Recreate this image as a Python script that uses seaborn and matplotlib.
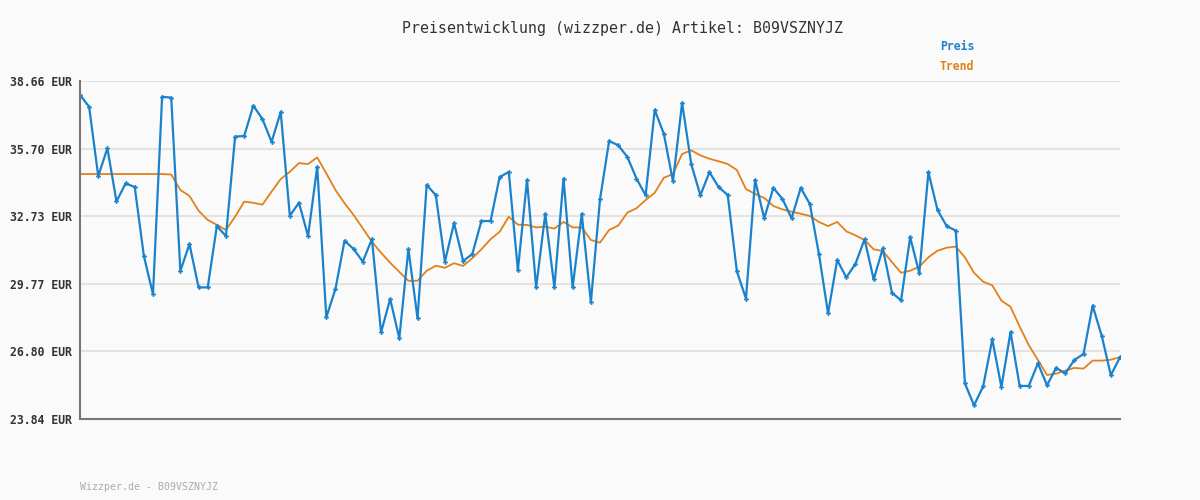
import numpy as np
import pandas as pd
import matplotlib
matplotlib.use("Agg")
import matplotlib.pyplot as plt
import seaborn as sns

# ===== Data =====
preis = [
    38.05, 37.53, 34.49, 35.71, 33.38, 34.17, 34.01, 30.99, 29.31, 37.97,
    37.93, 30.33, 31.51, 29.61, 29.61, 32.30, 31.86, 36.22, 36.25, 37.58,
    36.99, 35.99, 37.30, 32.75, 33.32, 31.86, 34.90, 28.30, 29.54, 31.66,
    31.29, 30.74, 31.73, 27.64, 29.10, 27.38, 31.29, 28.25, 34.10, 33.66,
    30.74, 32.43, 30.77, 31.07, 32.52, 32.52, 34.45, 34.67, 30.36, 34.32,
    29.61, 32.83, 29.61, 34.38, 29.61, 32.83, 28.96, 33.47, 36.03, 35.84,
    35.33, 34.38, 33.65, 37.39, 36.34, 34.26, 37.70, 35.02, 33.65, 34.66,
    34.01, 33.66, 30.32, 29.12, 34.32, 32.64, 33.97, 33.49, 32.64, 33.97,
    33.27, 31.07, 28.47, 30.81, 30.05, 30.64, 31.72, 29.96, 31.32, 29.38,
    29.04, 31.81, 30.23, 34.66, 33.00, 32.30, 32.10, 25.40, 24.44, 25.27,
    27.33, 25.24, 27.65, 25.29, 25.29, 26.28, 25.32, 26.08, 25.84, 26.43,
    26.69, 28.81, 27.48, 25.76, 26.55,
]
trend = [
    34.58, 34.58, 34.58, 34.58, 34.58, 34.58, 34.58, 34.58, 34.58, 34.58,
    34.56, 33.88, 33.62, 32.97, 32.57, 32.35, 32.13, 32.71, 33.37, 33.32,
    33.24, 33.81, 34.36, 34.68, 35.06, 35.02, 35.31, 34.61, 33.88, 33.30,
    32.78, 32.20, 31.61, 31.13, 30.69, 30.29, 29.90, 29.90, 30.34, 30.56,
    30.47, 30.67, 30.55, 30.89, 31.28, 31.72, 32.05, 32.71, 32.36, 32.35,
    32.24, 32.27, 32.19, 32.48, 32.24, 32.24, 31.69, 31.57, 32.13, 32.32,
    32.89, 33.08, 33.44, 33.76, 34.42, 34.58, 35.46, 35.62, 35.40, 35.25,
    35.14, 35.02, 34.76, 33.92, 33.71, 33.53, 33.18, 33.03, 32.93, 32.84,
    32.74, 32.48, 32.30, 32.48, 32.07, 31.89, 31.69, 31.28, 31.21, 30.72,
    30.25, 30.34, 30.52, 30.93, 31.22, 31.35, 31.40, 30.93, 30.25, 29.86,
    29.70, 29.03, 28.76, 27.89, 27.08, 26.43, 25.77, 25.83, 25.96, 26.08,
    26.05, 26.40, 26.40, 26.44, 26.55,
]
y_ticks = [23.84, 26.80, 29.77, 32.73, 35.70, 38.66]
artikel = "B09VSZNYJZ"

blue = "#1a82cc"
orange = "#e0821a"
bg = "#fafafa"
mono = ["DejaVu Sans Mono"]

df = pd.DataFrame({"idx": np.arange(len(preis)), "Preis": preis, "Trend": trend})

sns.set_theme(style="white")
plt.rcParams["font.family"] = mono

fig = plt.figure(figsize=(12, 5), dpi=100, facecolor=bg)
ax = fig.add_axes([80 / 1200, 81 / 500, 1040 / 1200, 338 / 500])
ax.set_facecolor(bg)

sns.lineplot(data=df, x="idx", y="Trend", ax=ax, color=orange, linewidth=1.3, zorder=3)
sns.lineplot(data=df, x="idx", y="Preis", ax=ax, color=blue, linewidth=1.6,
             marker="P", markersize=3.5, markeredgewidth=0, zorder=4)

ax.set_xlim(0, len(preis) - 1)
ax.set_ylim(y_ticks[0], y_ticks[-1])
ax.set_yticks(y_ticks)
ax.set_yticklabels([f"{v:.2f} EUR" for v in y_ticks], fontsize=8.3,
                   fontweight="bold", color="#333333")
ax.set_xticks([])
ax.set_xlabel("")
ax.set_ylabel("")
ax.tick_params(axis="y", length=0, pad=6)
for v in y_ticks[1:]:
    ax.axhline(v, color="#e3e3e3", linewidth=1.5, zorder=1)

for side in ["top", "right"]:
    ax.spines[side].set_visible(False)
for side in ["left", "bottom"]:
    ax.spines[side].set_color("#777777")
    ax.spines[side].set_linewidth(1.5)
    ax.spines[side].set_zorder(5)

fig.text(623 / 1200, 1 - 28 / 500, f"Preisentwicklung (wizzper.de) Artikel: {artikel}",
         ha="center", va="center", fontsize=10.7, color="#333333")
fig.text(957 / 1200, 1 - 47 / 500, "Preis", ha="center", va="center",
         fontsize=8.3, fontweight="bold", color=blue)
fig.text(957 / 1200, 1 - 67 / 500, "Trend", ha="center", va="center",
         fontsize=8.3, fontweight="bold", color=orange)
fig.text(80 / 1200, 1 - 487 / 500, f"Wizzper.de - {artikel}", ha="left", va="center",
         fontsize=7.1, color="#aaaaaa")

fig.savefig("out.png", dpi=100, facecolor=bg)
